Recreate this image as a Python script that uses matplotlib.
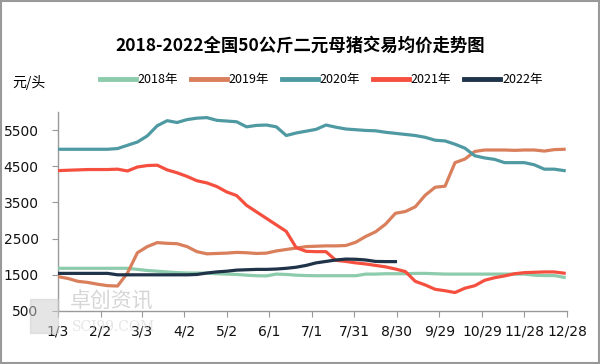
import numpy as np
import matplotlib.pyplot as plt
from matplotlib.patches import Rectangle

plt.rcParams['font.family'] = ['Noto Sans CJK SC', 'DejaVu Sans']

# weekly sampling, day offset counted from 1/3
days = np.arange(52) * 7

price_2018 = [1680, 1680, 1680, 1680, 1680, 1680, 1680, 1680, 1650, 1620,
              1600, 1580, 1560, 1550, 1550, 1545, 1530, 1520, 1510, 1490,
              1475, 1470, 1520, 1510, 1490, 1480, 1475, 1475, 1475, 1475,
              1475, 1520, 1520, 1530, 1530, 1530, 1540, 1540, 1530, 1520,
              1520, 1520, 1520, 1520, 1520, 1520, 1520, 1520, 1490, 1480,
              1480, 1430]
price_2019 = [1450, 1400, 1320, 1290, 1240, 1200, 1190, 1550, 2110, 2280,
              2390, 2370, 2360, 2280, 2140, 2080, 2090, 2100, 2120, 2110,
              2090, 2100, 2160, 2200, 2240, 2280, 2290, 2300, 2300, 2310,
              2400, 2560, 2690, 2900, 3200, 3250, 3380, 3700, 3920, 3950,
              4600, 4700, 4910, 4950, 4950, 4950, 4940, 4950, 4950, 4920,
              4960, 4970]
price_2020 = [4970, 4970, 4970, 4970, 4970, 4970, 4990, 5080, 5170, 5340,
              5620, 5760, 5710, 5790, 5830, 5845, 5770, 5750, 5730, 5590,
              5630, 5640, 5590, 5350, 5420, 5470, 5520, 5640, 5580, 5530,
              5510, 5490, 5480, 5440, 5410, 5380, 5350, 5300, 5220, 5200,
              5110, 5000, 4790, 4730, 4690, 4600, 4600, 4600, 4540, 4420,
              4420, 4380]
price_2021 = [4380, 4390, 4400, 4410, 4410, 4410, 4420, 4370, 4480, 4520,
              4530, 4400, 4320, 4220, 4100, 4040, 3940, 3790, 3690, 3420,
              3240, 3060, 2880, 2700, 2250, 2150, 2140, 2140, 1900, 1870,
              1830, 1800, 1760, 1720, 1660, 1590, 1320, 1220, 1100, 1060,
              1010, 1130, 1200, 1350, 1420, 1470, 1530, 1560, 1570, 1580,
              1580, 1545]
price_2022 = [1540, 1540, 1540, 1540, 1540, 1540, 1500, 1500, 1500, 1500,
              1500, 1500, 1500, 1500, 1510, 1550, 1580, 1600, 1630, 1640,
              1650, 1650, 1660, 1680, 1710, 1760, 1830, 1870, 1910, 1935,
              1930, 1910, 1870, 1865, 1865]

years = ['2018年', '2019年', '2020年', '2021年', '2022年']
colors = ['#8ccbab', '#d97f5c', '#4f9aa2', '#f5503f', '#1f3349']

tick_days = [0, 30, 59, 89, 119, 149, 179, 209, 239, 269, 299, 329, 359]
tick_labels = ['1/3', '2/2', '3/3', '4/2', '5/2', '6/1', '7/1', '7/31',
               '8/30', '9/29', '10/29', '11/28', '12/28']
y_ticks = [500, 1500, 2500, 3500, 4500, 5500]

fig = plt.figure(figsize=(6, 3.64), dpi=100)
ax = fig.add_axes([58 / 600, 1 - 311 / 364, 509 / 600, 199 / 364])

series = [price_2018, price_2019, price_2020, price_2021, price_2022]
for vals, lab, c in zip(series, years, colors):
    ax.plot(days[:len(vals)], vals, color=c, lw=2.3, label=lab,
            solid_joinstyle='round', zorder=3)

ax.set_xlim(0, 359)
ax.set_ylim(500, 6000)
ax.set_xticks(tick_days)
ax.set_xticklabels(tick_labels, family='DejaVu Sans', fontsize=10)
ax.set_yticks(y_ticks)
ax.set_yticklabels([str(v) for v in y_ticks], family='DejaVu Sans', fontsize=10)
ax.tick_params(axis='both', direction='out', length=4, color='#999999',
               labelcolor='#111111')
ax.tick_params(axis='x', pad=6)
ax.tick_params(axis='y', pad=10)
for s in ['top', 'right']:
    ax.spines[s].set_visible(False)
for s in ['left', 'bottom']:
    ax.spines[s].set_color('#999999')
    ax.spines[s].set_linewidth(1.0)

fig.text(0.5, 1 - 46 / 364, '2018-2022全国50公斤二元母猪交易均价走势图',
         ha='center', va='center', fontsize=12.5, fontweight='bold')
fig.text(12 / 600, 1 - 82 / 364, '元/头', ha='left', va='center', fontsize=10)

leg = fig.legend(loc='center', bbox_to_anchor=(321 / 600, 1 - 80 / 364),
                 ncol=5, frameon=False, fontsize=9, handlelength=2.9,
                 handletextpad=0.15, columnspacing=1.0)
for line in leg.get_lines():
    line.set_linewidth(3.5)

# watermark
fig.text(70 / 600, 1 - 302 / 364, '卓创资讯', fontsize=15, color='#bbbbbb',
         alpha=0.6, ha='left', va='center', zorder=0)
fig.text(72 / 600, 1 - 327 / 364, 'SCI99.COM', fontsize=10, color='#cccccc',
         alpha=0.5, ha='left', va='center', family='DejaVu Serif', zorder=0)
fig.patches.append(Rectangle((30 / 600, 1 - 333 / 364), 28 / 600, 34 / 364,
                             transform=fig.transFigure, color='#cccccc',
                             alpha=0.5, zorder=0))

fig.patches.append(Rectangle((0.001, 0.002), 0.997, 0.995,
                             transform=fig.transFigure, fill=False,
                             edgecolor='#999999', lw=1.5))

fig.savefig('out.png', dpi=100)
